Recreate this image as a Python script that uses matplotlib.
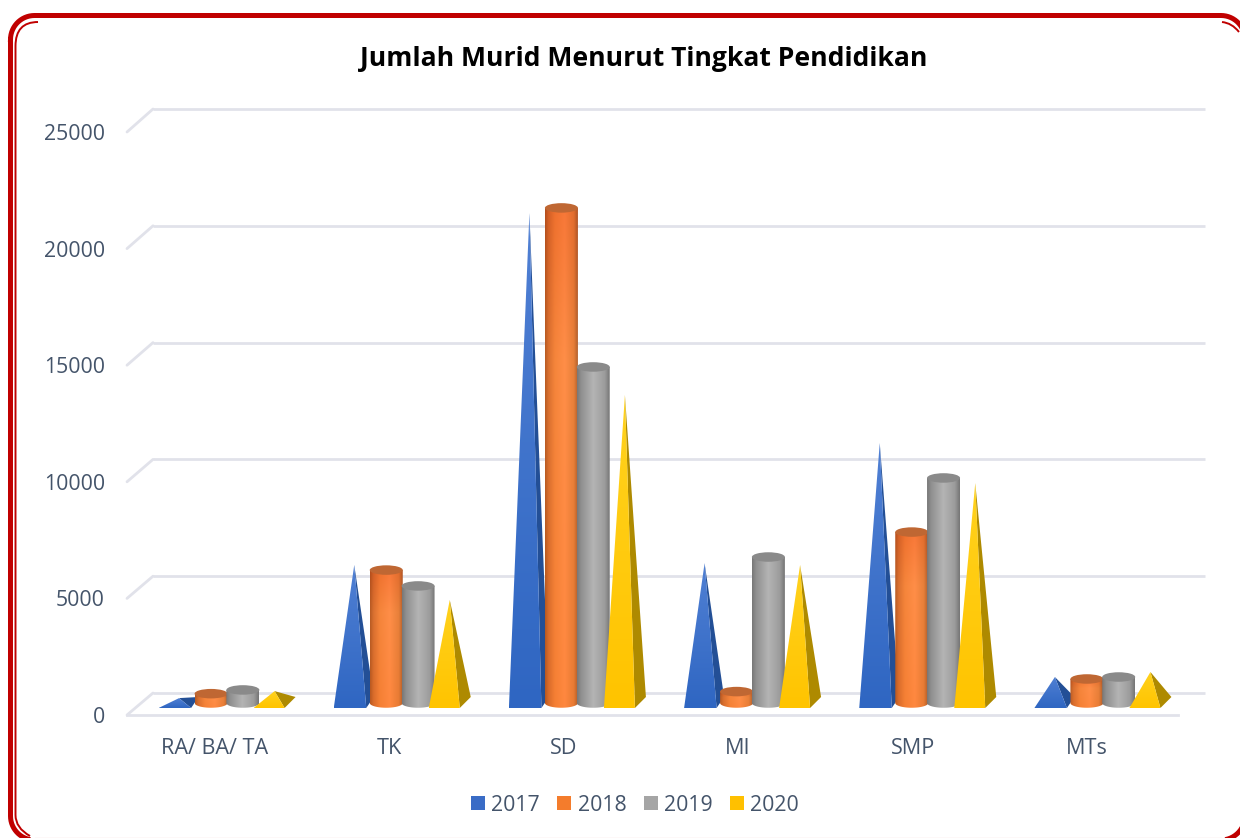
import numpy as np
import matplotlib
matplotlib.use('Agg')
import matplotlib.pyplot as plt
from matplotlib.patches import ConnectionPatch, Ellipse, Patch, PathPatch, Polygon
from matplotlib.path import Path

# data
kategori = ['RA/ BA/ TA', 'TK', 'SD', 'MI', 'SMP', 'MTs']
tahun = ['2017', '2018', '2019', '2020']
murid_2017 = [210, 5920, 21010, 6000, 11150, 1115]
murid_2018 = [400, 5700, 21230, 490, 7330, 1030]
murid_2019 = [560, 5020, 14410, 6260, 9650, 1115]
murid_2020 = [510, 4420, 13210, 5920, 9430, 1330]
y_ticks = [0, 5000, 10000, 15000, 20000, 25000]

W, H = 1240, 838
TEKS = '#44546A'
GRID = '#E1E2EA'
MERAH = '#C00000'
FONT = 'Open Sans'
PX_Y = 0.02332   # pixel per murid
PX_X = 175.17    # pixel per kategori

plt.rcParams['font.family'] = [FONT, 'DejaVu Sans']

fig = plt.figure(figsize=(W / 100, H / 100), dpi=100, facecolor='white')


def axes_px(left, right, top, bottom, y_min, y_max):
    ax = fig.add_axes([left / W, 1 - bottom / H, (right - left) / W, (bottom - top) / H])
    ax.set_xlim(-0.5, 5.5)
    ax.set_ylim(y_min, y_max)
    ax.patch.set_alpha(0)
    return ax


def warna(c):
    return np.array(matplotlib.colors.to_rgb(c))


def isi_gradien(ax, clip, extent, warna_x=None, warna_y=None, zorder=3):
    # gambar gradien lalu dipotong mengikuti bentuk batang
    n = 64
    t = np.linspace(0, 1, n)
    img = np.ones((n, n, 3))
    for k in range(3):
        gx = np.ones(n)
        gy = np.ones(n)
        if warna_x is not None:
            gx = np.interp(t, [p for p, _ in warna_x], [warna(c)[k] for _, c in warna_x])
        if warna_y is not None:
            gy = np.interp(t, [p for p, _ in warna_y], [warna(c)[k] for _, c in warna_y])
        if warna_x is not None and warna_y is not None:
            img[:, :, k] = np.clip(np.outer(gy, gx), 0, 1)
        elif warna_x is not None:
            img[:, :, k] = np.tile(gx, (n, 1))
        else:
            img[:, :, k] = np.tile(gy, (n, 1)).T
    im = ax.imshow(img, extent=extent, origin='upper', aspect='auto',
                   interpolation='bilinear', zorder=zorder)
    clip.set_transform(ax.transData)
    im.set_clip_path(clip)


def silinder(ax, x_tengah, nilai, profil, vertikal, warna_atas, zorder):
    lebar = 33 / PX_X
    tinggi_elips = 9.5 / PX_Y
    x0 = x_tengah - lebar / 2
    x1 = x_tengah + lebar / 2
    t = np.linspace(0, np.pi, 30)
    bawah_x = x_tengah + lebar / 2 * np.cos(t)
    bawah_y = -tinggi_elips / 2 * np.sin(t)
    xy = np.column_stack([np.r_[x1, bawah_x, x0], np.r_[nilai, bawah_y, nilai]])
    badan = Polygon(xy, closed=True)
    isi_gradien(ax, badan, [x0, x1, -tinggi_elips, nilai], warna_x=profil, warna_y=vertikal, zorder=zorder)
    ax.add_patch(Ellipse((x_tengah, nilai), lebar, tinggi_elips, facecolor=warna_atas,
                         edgecolor='none', zorder=zorder + 0.1))


def piramida(ax, x0, x1, x_puncak, x_sisi, nilai, warna_atas, warna_bawah, warna_sisi, zorder):
    depan = -5 / PX_Y
    belakang = 6 / PX_Y
    ax.fill([x1, x_sisi, x_puncak], [depan, belakang, nilai], color=warna_sisi, lw=0, zorder=zorder)
    muka = Polygon([(x0, depan), (x1, depan), (x_puncak, nilai)], closed=True)
    isi_gradien(ax, muka, [x0, x1, depan, max(nilai, 0)],
                warna_y=[(0, warna_atas), (1, warna_bawah)], zorder=zorder + 0.1)


# dinding belakang dengan garis grid
ax_wall = axes_px(153, 1205, 109, 693, 0, 25000)
ax_wall.hlines(y_ticks, -0.5, 5.5, color=GRID, lw=2.0, clip_on=False)
ax_wall.axis('off')

# sumbu depan, untuk label
ax_front = axes_px(127, 1178, 132, 715, 0, 25000)
ax_front.set_xlim(-0.5, 5.52)
ax_front.set_xticks(range(len(kategori)))
ax_front.set_xticklabels(kategori, fontsize=15.6, color=TEKS)
ax_front.set_yticks(y_ticks)
ax_front.set_yticklabels([str(v) for v in y_ticks], fontsize=15.3, color=TEKS)
ax_front.tick_params(axis='x', length=0, pad=16.5)
ax_front.tick_params(axis='y', length=0, pad=16)
for s in ['top', 'right', 'left']:
    ax_front.spines[s].set_visible(False)
ax_front.spines['bottom'].set_color(GRID)
ax_front.spines['bottom'].set_linewidth(2.0)

for v in y_ticks:
    fig.add_artist(ConnectionPatch(xyA=(-0.5, v), coordsA=ax_front.transData,
                                   xyB=(-0.5, v), coordsB=ax_wall.transData,
                                   color=GRID, lw=2.0))

# batang
ax = axes_px(140, 1191, 109, 725, -22 / PX_Y, (703 - 109) / PX_Y)
ax.axis('off')

orange_x = [(0, '#B85C24'), (0.1, '#D97030'), (0.3, '#F5853B'), (0.6, '#FF8E48'), (0.88, '#E8803A'), (1, '#B4622E')]
orange_y = [(0, '#F8D8C8'), (0.3, '#FFFFFF'), (1, '#FFF4E0')]
abu_x = [(0, '#787878'), (0.12, '#909090'), (0.5, '#B4B4B4'), (0.85, '#9C9C9C'), (1, '#767676')]

for i in range(len(kategori)):
    piramida(ax, i - 69 / PX_X, i - 36.5 / PX_X, i - 48.5 / PX_X, i - 29 / PX_X, murid_2017[i],
             '#5080D4', '#2F66C2', '#234F96', 2)
    silinder(ax, i - 16.5 / PX_X, murid_2018[i], orange_x, orange_y, '#BF6733', 3)
    silinder(ax, i + 15.3 / PX_X, murid_2019[i], abu_x, None, '#8A8A8A', 4)
    piramida(ax, i + 26 / PX_X, i + 57 / PX_X, i + 47 / PX_X, i + 68 / PX_X, murid_2020[i],
             '#FFD21E', '#FFC400', '#AE8A00', 5)
ax.set_xlim(-0.5, 5.5)
ax.set_ylim(-22 / PX_Y, (703 - 109) / PX_Y)

fig.text(643.5 / W, 1 - 59 / H, 'Jumlah Murid Menurut Tingkat Pendidikan', fontsize=19.1,
         fontweight='bold', color='black', ha='center', va='center')

warna_legend = ['#3A6CC6', '#F47C2C', '#A5A5A5', '#FFC000']
handles = [Patch(facecolor=c, edgecolor='none') for c in warna_legend]
fig.legend(handles, tahun, loc='center', bbox_to_anchor=(635 / W, 1 - 805 / H), ncols=4,
           frameon=False, fontsize=15.3, labelcolor=TEKS, handlelength=0.67, handleheight=0.67,
           handletextpad=0.3, columnspacing=0.8)

# bingkai merah
ax_frame = fig.add_axes([0, 0, 1, 1], zorder=10)
ax_frame.set_xlim(0, W)
ax_frame.set_ylim(H, 0)
ax_frame.axis('off')
kiri, kanan, atas, bawah, r = 10.5, 1245, 15.5, 840, 24
sudut = np.linspace(0, np.pi / 2, 16)
bingkai_x = np.r_[kiri + r - r * np.cos(sudut), kanan - r + r * np.sin(sudut),
                  kanan - r + r * np.cos(sudut), kiri + r - r * np.sin(sudut), kiri]
bingkai_y = np.r_[atas + r - r * np.sin(sudut), atas + r - r * np.cos(sudut),
                  bawah - r + r * np.sin(sudut), bawah - r + r * np.cos(sudut), atas + r]
ax_frame.plot(bingkai_x, bingkai_y, color=MERAH, lw=3.6, solid_joinstyle='round')
# garis tipis merah muda di tepi bawah
ax_frame.plot([kiri + r, kanan - r], [837.5, 837.5], color='#E08080', lw=0.8)
M, L, C = Path.MOVETO, Path.LINETO, Path.CURVE3
garis_dalam = [
    ([(38, 22), (15.5, 22), (15.5, 46), (15.5, 815), (15.5, 828), (30, 836)], [M, C, C, L, C, C]),
    ([(1222, 22), (1232, 23), (1239, 32)], [M, C, C]),
]
for titik, kode in garis_dalam:
    ax_frame.add_patch(PathPatch(Path(titik, kode), facecolor='none', edgecolor=MERAH, lw=1.4))

fig.savefig('out.png', dpi=100)
